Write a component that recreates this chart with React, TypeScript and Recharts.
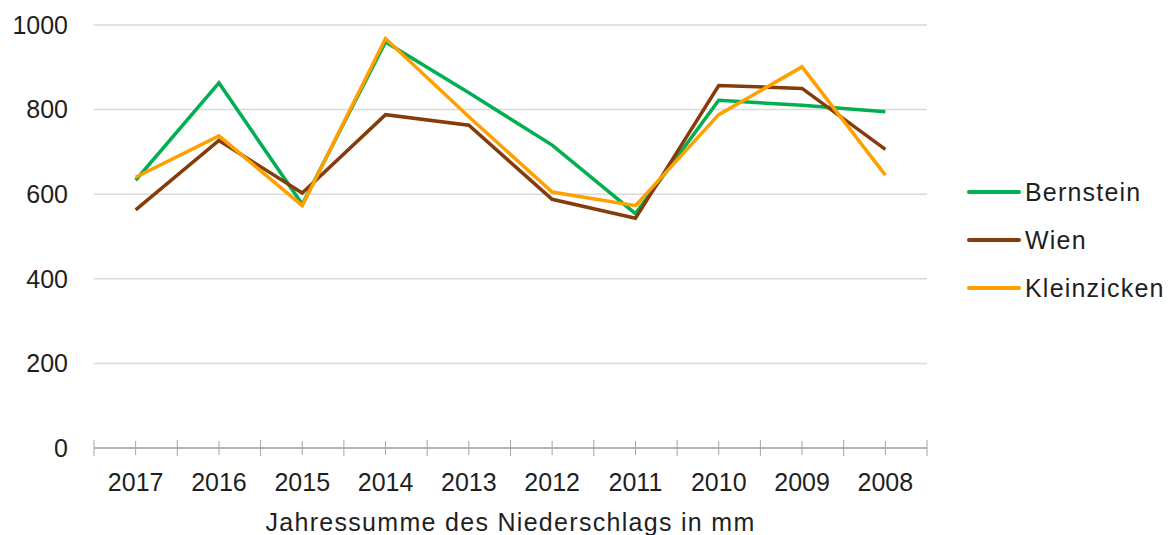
import { LineChart, Line, XAxis, YAxis, CartesianGrid, Label } from 'recharts';

// Jahre (Reihenfolge wie im Original, absteigend)
const years = ['2017', '2016', '2015', '2014', '2013', '2012', '2011', '2010', '2009', '2008'];

// Jahressumme Niederschlag in mm
const bernstein = [633, 863, 576, 960, 840, 716, 554, 822, 810, 795];
const wien = [563, 727, 603, 788, 763, 588, 543, 857, 850, 706];
const kleinzicken = [640, 738, 573, 968, 783, 605, 573, 788, 901, 645];

const yTicks = [0, 200, 400, 600, 800, 1000];

const series = [
  { key: 'Bernstein', color: '#00b050' },
  { key: 'Wien', color: '#843c0c' },
  { key: 'Kleinzicken', color: '#ff9f00' },
];

const data = years.map((y, i) => ({
  year: y,
  Bernstein: bernstein[i],
  Wien: wien[i],
  Kleinzicken: kleinzicken[i],
}));

const FONT = '"Liberation Sans", Arial, sans-serif';
const TEXT = '#1f1f1f';
const W = 1169;
const H = 535;
const M = { top: 25, right: 242, left: 0, bottom: 0 };
const YW = 94;
const BAND = (W - M.right - YW) / years.length;

// Tick mit Strichen in der Mitte und an den Kategoriegrenzen
const XTick = ({ x, y, payload, index }: any) => (
  <g>
    <line x1={x - BAND / 2} x2={x - BAND / 2} y1={y - 8} y2={y + 8} stroke="#a6a6a6" />
    <line x1={x} x2={x} y1={y - 7} y2={y + 7} stroke="#a6a6a6" />
    {index === years.length - 1 && (
      <line x1={x + BAND / 2} x2={x + BAND / 2} y1={y - 8} y2={y + 8} stroke="#a6a6a6" />
    )}
    <text x={x} y={y + 43} textAnchor="middle" fill={TEXT} fontSize={25} fontFamily={FONT}>
      {payload.value}
    </text>
  </g>
);

const LegendBox = () => (
  <div
    style={{
      position: 'absolute',
      left: 967,
      top: 168,
      fontFamily: FONT,
      fontSize: 25,
      color: TEXT,
      letterSpacing: 1.2,
    }}
  >
    {series.map((s) => (
      <div key={s.key} style={{ display: 'flex', alignItems: 'center', height: 48 }}>
        <div style={{ width: 54, height: 3.5, background: s.color, marginRight: 4, borderRadius: 2 }} />
        <span>{s.key}</span>
      </div>
    ))}
  </div>
);

export default function App() {
  return (
    <div style={{ position: 'absolute', left: 0, top: 0, width: W, height: H, background: '#fff' }}>
      <LineChart width={W} height={H} data={data} margin={M}>
        <CartesianGrid vertical={false} stroke="#d9d9d9" strokeWidth={1.5} />
        <XAxis
          dataKey="year"
          height={H - 448}
          padding={{ left: BAND / 2, right: BAND / 2 }}
          axisLine={{ stroke: '#a6a6a6', strokeWidth: 1.5 }}
          tickLine={false}
          tickSize={0}
          tickMargin={0}
          interval={0}
          tick={<XTick />}
        >
          <Label
            value="Jahressumme des Niederschlags in mm"
            position="insideBottom"
            offset={4}
            fill={TEXT}
            fontSize={25}
            fontFamily={FONT}
            letterSpacing={1.3}
          />
        </XAxis>
        <YAxis
          width={YW}
          domain={[0, 1000]}
          ticks={yTicks}
          axisLine={false}
          tickLine={false}
          tickSize={0}
          tickMargin={26}
          tick={{ fill: TEXT, fontSize: 25, fontFamily: FONT }}
        />
        {series.map((s) => (
          <Line
            key={s.key}
            dataKey={s.key}
            stroke={s.color}
            strokeWidth={3.5}
            dot={false}
            activeDot={false}
            isAnimationActive={false}
          />
        ))}
      </LineChart>
      <LegendBox />
    </div>
  );
}
